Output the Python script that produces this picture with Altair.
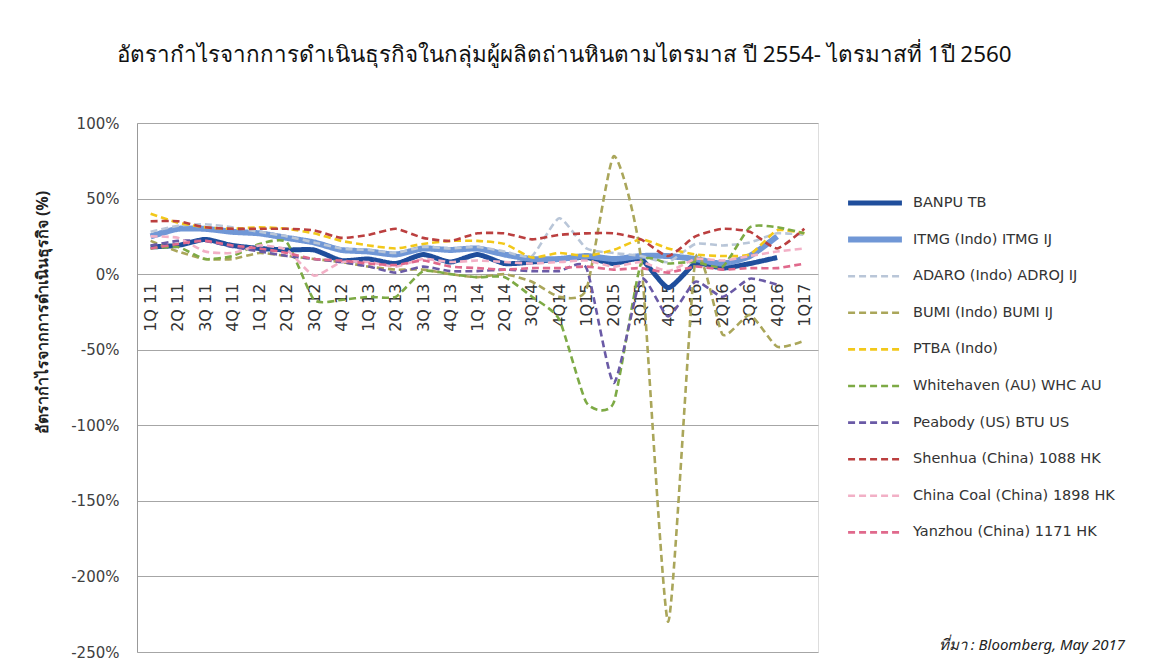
import altair as alt
import pandas as pd

quarters = ["1Q 11", "2Q 11", "3Q 11", "4Q 11", "1Q 12", "2Q 12", "3Q 12", "4Q 12",
            "1Q 13", "2Q 13", "3Q 13", "4Q 13", "1Q 14", "2Q 14", "3Q14", "4Q14",
            "1Q15", "2Q15", "3Q15", "4Q15", "1Q16", "2Q16", "3Q16", "4Q16", "1Q17"]

series_names = ["BANPU TB", "ITMG (Indo) ITMG IJ", "ADARO (Indo) ADROJ IJ", "BUMI (Indo) BUMI IJ",
                "PTBA (Indo)", "Whitehaven (AU) WHC AU", "Peabody (US) BTU US",
                "Shenhua (China) 1088 HK", "China Coal (China) 1898 HK", "Yanzhou (China) 1171 HK"]

banpu = [18, 19, 23, 19, 17, 16, 16, 9, 10, 7, 13, 8, 13, 7, 8, 10, 11, 7, 10, -9, 7, 4, 7, 11, None]
itmg = [25, 30, 30, 28, 27, 24, 21, 16, 15, 13, 17, 16, 17, 13, 10, 10, 12, 10, 12, 12, 10, 7, 12, 25, None]
adaro = [28, 32, 33, 31, 28, 25, 21, 17, 16, 14, 18, 17, 18, 15, 12, 37, 17, 14, 12, 8, 20, 19, 21, 27, 26]
bumi = [22, 15, 10, 10, 14, 12, 10, 8, 5, 3, 3, 0, -2, 0, -5, -15, -10, 78, 10, -230, 10, -40, -27, -48, -44]
ptba = [40, 34, 31, 30, 31, 30, 27, 22, 19, 17, 20, 22, 22, 20, 11, 14, 12, 16, 23, 17, 13, 12, 13, 29, 27]
whitehaven = [17, 18, 10, 12, 20, 21, -17, -17, -15, -15, 2, 0, -2, -2, -15, -30, -85, -85, 7, 7, 8, 5, 31, 31, 27]
peabody = [19, 22, 22, 18, 15, 12, 10, 8, 5, 1, 5, 2, 2, 3, 2, 2, 4, -72, -3, -28, -5, -15, -3, -7, None]
shenhua = [35, 35, 31, 30, 30, 30, 29, 24, 26, 30, 24, 22, 27, 27, 23, 26, 27, 27, 23, 12, 25, 30, 28, 17, 30]
chinacoal = [25, 24, 15, 14, 19, 16, -1, 8, 8, 5, 10, 8, 9, 8, 7, 8, 9, 5, 8, 2, 10, 9, 12, 15, 17]
yanzhou = [17, 20, 22, 19, 17, 14, 10, 9, 7, 6, 9, 5, 4, 3, 4, 4, 5, 3, 4, 1, 5, 3, 4, 4, 7]

all_values = [banpu, itmg, adaro, bumi, ptba, whitehaven, peabody, shenhua, chinacoal, yanzhou]

colors = ["#1f4e9c", "#7097d6", "#b9c6d8", "#aaa65a", "#f2c81a", "#7daa45",
          "#6a5aa6", "#bb3f3f", "#f2b0c6", "#e0698c"]
dashes = [[1, 0], [1, 0], [7, 4], [7, 4], [7, 4], [7, 4], [7, 4], [7, 4], [7, 4], [7, 4]]
widths = [5, 6, 2.6, 2.6, 2.6, 2.6, 2.6, 2.6, 2.6, 2.6]

rows = []
for order, (name, vals) in enumerate(zip(series_names, all_values)):
    for q, v in zip(quarters, vals):
        if v is not None:
            rows.append({"quarter": q, "series": name, "value": v, "order": order})
df = pd.DataFrame(rows)

title_text = "อัตรากำไรจากการดำเนินธุรกิจในกลุ่มผู้ผลิตถ่านหินตามไตรมาส ปี 2554- ไตรมาสที่ 1ปี 2560"
y_title = "อัตรากำไรจากการดำเนินธุรกิจ (%)"
source_text = "ที่มา : Bloomberg, May 2017"

W, H = 681, 529

lines = alt.Chart(df).mark_line(interpolate="cardinal", tension=0.45).encode(
    x=alt.X("quarter:N", sort=quarters,
            scale=alt.Scale(paddingOuter=0.5),
            axis=alt.Axis(title=None, labelAngle=-90, offset=-H * 250 / 350, domain=False,
                          ticks=False, labelPadding=9, labelFontSize=16, labelColor="#333333",
                          labelFont="DejaVu Sans", grid=False)),
    y=alt.Y("value:Q", scale=alt.Scale(domain=[-250, 100], nice=False),
            axis=alt.Axis(title=y_title, values=[-250, -200, -150, -100, -50, 0, 50, 100],
                          labelExpr="datum.value + '%'", labelFontSize=15, labelColor="#404040",
                          labelFont="DejaVu Sans", labelPadding=18, ticks=False,
                          domain=True, domainColor="#999999", gridColor="#a6a6a6", gridWidth=1,
                          titleX=-95, titleY=189, titleAngle=-90, titleAlign="center",
                          titleBaseline="middle", titleFontSize=16, titleFontWeight="bold",
                          titleColor="#222222", titleFont="Noto Sans")),
    color=alt.Color("series:N", sort=series_names,
                    scale=alt.Scale(domain=series_names, range=colors),
                    legend=alt.Legend(title=None, orient="none", legendX=708, legendY=70,
                                      symbolType="stroke", symbolSize=2900, clipHeight=20,
                                      rowPadding=16.6, labelFontSize=14.5, labelColor="#333333",
                                      labelFont="DejaVu Sans", labelOffset=8, labelLimit=400)),
    strokeDash=alt.StrokeDash("series:N", sort=series_names,
                              scale=alt.Scale(domain=series_names, range=dashes), legend=None),
    strokeWidth=alt.StrokeWidth("series:N", sort=series_names,
                                scale=alt.Scale(type="ordinal", domain=series_names, range=widths),
                                legend=None),
    order=alt.Order("order:Q"),
    detail="series:N",
)

src = alt.Chart(pd.DataFrame({"t": [source_text]})).mark_text(
    align="right", baseline="middle", fontSize=15, fontStyle="italic", font="Noto Sans",
    color="#222222"
).encode(text="t:N", x=alt.value(988), y=alt.value(522))

chart = alt.layer(lines, src).properties(
    width=W, height=H,
    title=alt.TitleParams(title_text, anchor="start", dx=83, offset=50, fontSize=22.4,
                          fontWeight="normal", font="Noto Sans", color="#111111"),
    padding={"left": 129, "top": 115, "right": 325, "bottom": 11},
    autosize=alt.AutoSizeParams(type="none"),
).configure_view(stroke=None).configure(background="white")

chart.save("out.html", embed_options={"renderer": "svg", "actions": False})
